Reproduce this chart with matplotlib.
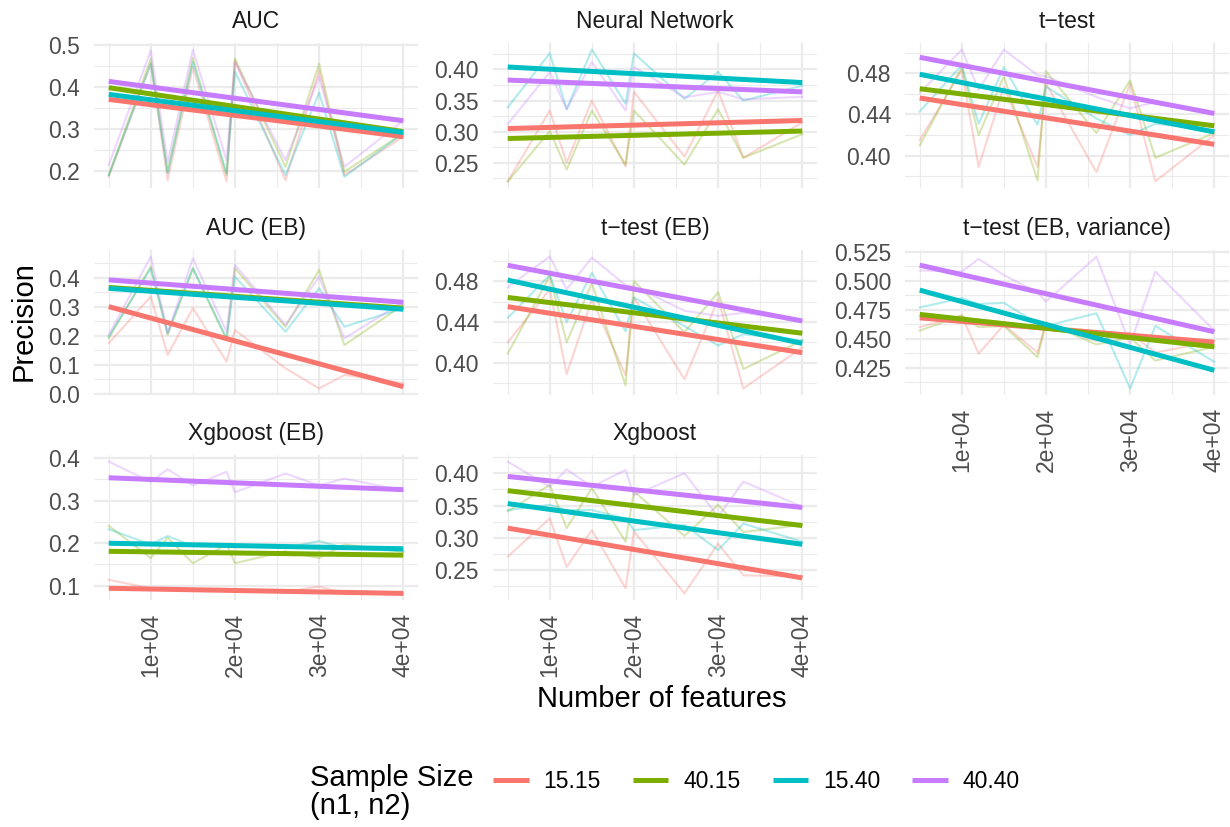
import numpy as np
import matplotlib.pyplot as plt
from matplotlib.lines import Line2D

plt.rcParams['font.family'] = ['Liberation Sans', 'DejaVu Sans']

# number of features on the x axis (shared by every method)
n_features = [5000, 10000, 12000, 15000, 19000, 20000, 26000, 30000, 33000, 40000]

sample_sizes = ['15.15', '40.15', '15.40', '40.40']
colors = ['#F8766D', '#7CAE00', '#00BFC4', '#C77CFF']

# precision per method, one row per sample size (order of sample_sizes)
auc = [
    [0.186, 0.456, 0.178, 0.448, 0.175, 0.464, 0.178, 0.440, 0.190, 0.282],
    [0.190, 0.468, 0.198, 0.470, 0.190, 0.468, 0.210, 0.456, 0.198, 0.290],
    [0.190, 0.456, 0.195, 0.460, 0.194, 0.437, 0.190, 0.387, 0.186, 0.290],
    [0.214, 0.488, 0.220, 0.490, 0.225, 0.460, 0.226, 0.425, 0.210, 0.320],
]
neural = [
    [0.220, 0.334, 0.250, 0.350, 0.244, 0.364, 0.260, 0.366, 0.258, 0.315],
    [0.220, 0.301, 0.239, 0.334, 0.247, 0.334, 0.247, 0.336, 0.258, 0.296],
    [0.339, 0.426, 0.336, 0.432, 0.345, 0.426, 0.353, 0.396, 0.350, 0.374],
    [0.312, 0.396, 0.336, 0.412, 0.334, 0.404, 0.355, 0.364, 0.352, 0.356],
]
ttest = [
    [0.415, 0.483, 0.389, 0.467, 0.389, 0.470, 0.384, 0.470, 0.375, 0.420],
    [0.410, 0.486, 0.420, 0.477, 0.376, 0.482, 0.422, 0.473, 0.398, 0.422],
    [0.443, 0.488, 0.431, 0.486, 0.430, 0.467, 0.436, 0.420, 0.431, 0.425],
    [0.461, 0.503, 0.464, 0.503, 0.478, 0.477, 0.457, 0.446, 0.452, 0.441],
]
auc_eb = [
    [0.174, 0.335, 0.134, 0.295, 0.111, 0.220, 0.088, 0.019, 0.065, 0.037],
    [0.191, 0.438, 0.203, 0.432, 0.186, 0.432, 0.231, 0.426, 0.168, 0.306],
    [0.197, 0.432, 0.209, 0.432, 0.191, 0.403, 0.214, 0.363, 0.231, 0.295],
    [0.203, 0.472, 0.209, 0.466, 0.214, 0.444, 0.237, 0.403, 0.191, 0.317],
]
ttest_eb = [
    [0.420, 0.472, 0.389, 0.462, 0.388, 0.464, 0.384, 0.462, 0.375, 0.415],
    [0.409, 0.485, 0.420, 0.478, 0.378, 0.480, 0.430, 0.469, 0.394, 0.422],
    [0.444, 0.486, 0.440, 0.488, 0.431, 0.464, 0.436, 0.417, 0.428, 0.422],
    [0.474, 0.504, 0.472, 0.503, 0.476, 0.475, 0.451, 0.446, 0.449, 0.441],
]
ttest_eb_var = [
    [0.460, 0.470, 0.437, 0.462, 0.438, 0.464, 0.448, 0.455, 0.438, 0.448],
    [0.457, 0.470, 0.460, 0.461, 0.434, 0.464, 0.445, 0.451, 0.431, 0.443],
    [0.477, 0.485, 0.480, 0.481, 0.463, 0.461, 0.472, 0.407, 0.461, 0.430],
    [0.509, 0.508, 0.519, 0.505, 0.490, 0.482, 0.521, 0.445, 0.508, 0.457],
]
xgb_eb = [
    [0.114, 0.094, 0.090, 0.090, 0.092, 0.090, 0.086, 0.098, 0.082, 0.082],
    [0.241, 0.165, 0.213, 0.153, 0.197, 0.153, 0.181, 0.165, 0.197, 0.180],
    [0.233, 0.197, 0.217, 0.193, 0.197, 0.193, 0.189, 0.205, 0.189, 0.181],
    [0.392, 0.344, 0.374, 0.336, 0.368, 0.320, 0.364, 0.336, 0.352, 0.324],
]
xgb = [
    [0.271, 0.330, 0.255, 0.312, 0.222, 0.310, 0.214, 0.291, 0.242, 0.240],
    [0.341, 0.382, 0.315, 0.377, 0.294, 0.372, 0.303, 0.351, 0.309, 0.320],
    [0.343, 0.351, 0.343, 0.343, 0.330, 0.312, 0.320, 0.281, 0.322, 0.294],
    [0.418, 0.379, 0.406, 0.379, 0.405, 0.366, 0.400, 0.333, 0.387, 0.348],
]

# linear trend per sample size: precision at 5000 and at 40000 features
auc_fit = [(0.371, 0.282), (0.399, 0.294), (0.383, 0.292), (0.414, 0.320)]
neural_fit = [(0.305, 0.318), (0.289, 0.301), (0.404, 0.379), (0.383, 0.364)]
ttest_fit = [(0.456, 0.411), (0.465, 0.429), (0.479, 0.423), (0.4955, 0.441)]
auc_eb_fit = [(0.300, 0.025), (0.366, 0.295), (0.363, 0.291), (0.392, 0.315)]
ttest_eb_fit = [(0.455, 0.410), (0.464, 0.429), (0.481, 0.419), (0.4955, 0.441)]
ttest_eb_var_fit = [(0.468, 0.447), (0.471, 0.443), (0.492, 0.4227), (0.5136, 0.456)]
xgb_eb_fit = [(0.094, 0.082), (0.181, 0.172), (0.200, 0.187), (0.354, 0.326)]
xgb_fit = [(0.315, 0.238), (0.373, 0.319), (0.353, 0.290), (0.395, 0.347)]

x_major = [10000, 20000, 30000, 40000]
x_minor = [5000, 15000, 25000, 35000]
x_labels = ['1e+04', '2e+04', '3e+04', '4e+04']

panels = [
    ('AUC', auc, auc_fit, ['0.2', '0.3', '0.4', '0.5']),
    ('Neural Network', neural, neural_fit, ['0.25', '0.30', '0.35', '0.40']),
    ('t\u2212test', ttest, ttest_fit, ['0.40', '0.44', '0.48']),
    ('AUC (EB)', auc_eb, auc_eb_fit, ['0.0', '0.1', '0.2', '0.3', '0.4']),
    ('t\u2212test (EB)', ttest_eb, ttest_eb_fit, ['0.40', '0.44', '0.48']),
    ('t\u2212test (EB, variance)', ttest_eb_var, ttest_eb_var_fit,
     ['0.425', '0.450', '0.475', '0.500', '0.525']),
    ('Xgboost (EB)', xgb_eb, xgb_eb_fit, ['0.1', '0.2', '0.3', '0.4']),
    ('Xgboost', xgb, xgb_fit, ['0.25', '0.30', '0.35', '0.40']),
]
# panels that carry the x tick labels
labelled = {5, 6, 7}

W, H = 1230, 827
fig = plt.figure(figsize=(W / 100, H / 100), dpi=100)

col_x = [94, 493, 905]
row_y = [43, 250, 455]
pw, ph = 324, 145
grid_col = '#EBEBEB'
txt_small = 16.5

for i, (title, prec, fit, ylabels) in enumerate(panels):
    r, c = divmod(i, 3)
    ax = fig.add_axes([col_x[c] / W, 1 - (row_y[r] + ph) / H, pw / W, ph / H])

    for vals, col in zip(prec, colors):
        ax.plot(n_features, vals, color=col, alpha=0.3, lw=1.5)
    for (y0, y1), col in zip(fit, colors):
        ax.plot([n_features[0], n_features[-1]], [y0, y1], color=col, lw=3.6,
                solid_capstyle='butt')

    xlim, ylim = ax.get_xlim(), ax.get_ylim()
    yt = [float(s) for s in ylabels]
    step = yt[1] - yt[0]
    ax.set_yticks(yt, ylabels)
    ax.set_yticks(np.arange(yt[0] - step / 2, yt[-1] + step, step), minor=True)
    ax.set_xticks(x_major, x_labels if i in labelled else [])
    ax.set_xticks(x_minor, minor=True)
    ax.set_xlim(xlim)
    ax.set_ylim(ylim)

    ax.grid(which='major', color=grid_col, lw=1.6)
    ax.grid(which='minor', color=grid_col, lw=0.8)
    ax.set_axisbelow(True)
    for s in ax.spines.values():
        s.set_visible(False)
    ax.tick_params(which='both', length=0)
    ax.tick_params(axis='y', labelsize=txt_small, labelcolor='#4D4D4D', pad=10)
    ax.tick_params(axis='x', labelsize=txt_small, labelcolor='#4D4D4D', pad=9,
                   labelrotation=90)
    for lab in ax.get_xticklabels():
        lab.set_va('top')
    ax.set_title(title, fontsize=txt_small, color='#1A1A1A', pad=10.5)

fig.text(23.5 / W, 1 - 321.5 / H, 'Precision', rotation=90, fontsize=21,
         ha='center', va='center')
fig.text(661.5 / W, 1 - 707 / H, 'Number of features', fontsize=21,
         ha='center', va='baseline')

# legend at the bottom
fig.text(310 / W, 1 - 785.5 / H, 'Sample Size', fontsize=21, ha='left', va='baseline')
fig.text(310 / W, 1 - 814 / H, '(n1, n2)', fontsize=21, ha='left', va='baseline')
handles = [Line2D([], [], color=col, lw=3.6, solid_capstyle='butt') for col in colors]
fig.legend(handles, sample_sizes, ncol=4, loc='center left',
           bbox_to_anchor=(493 / W, 1 - 782 / H), frameon=False,
           fontsize=txt_small, handlelength=1.55, handletextpad=0.65,
           columnspacing=1.4, borderpad=0, borderaxespad=0)

fig.savefig('out.png', dpi=100)
